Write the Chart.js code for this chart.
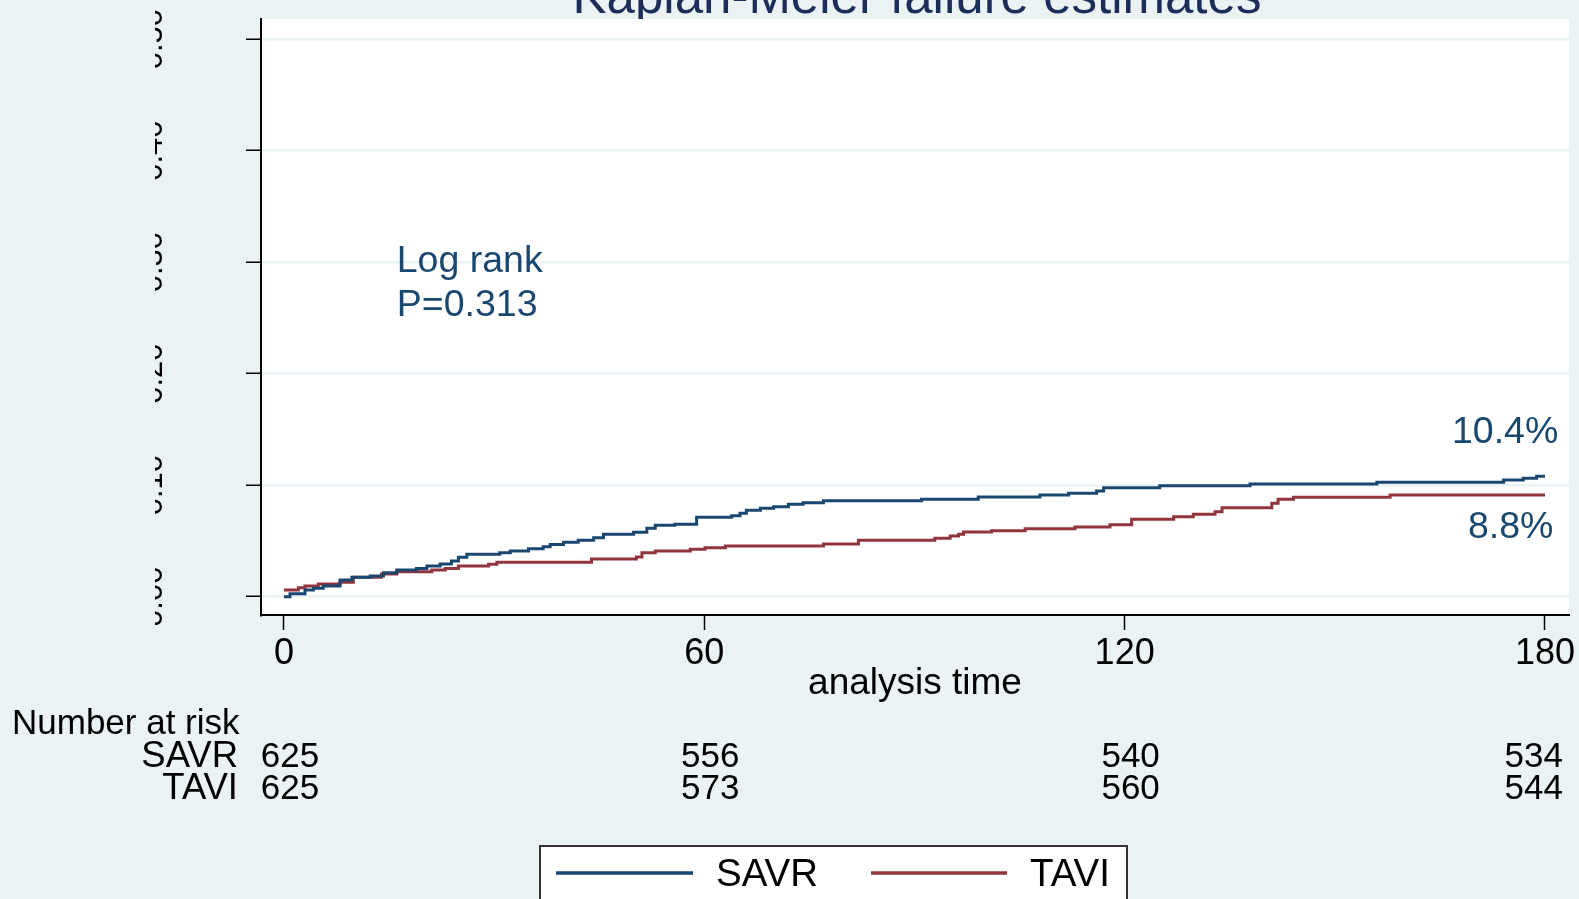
<!DOCTYPE html>
<html>
<head>
<meta charset="utf-8">
<script src="https://cdn.jsdelivr.net/npm/chart.js@4.4.1/dist/chart.umd.min.js"></script>
<style>
  html, body { margin: 0; padding: 0; background: #eaf2f3; }
  #box { width: 1579px; height: 899px; position: relative; }
</style>
</head>
<body>
<div id="box"><canvas id="km"></canvas></div>
<script>
// cumulative failure
const savrTime = [0, 0.86, 3.0, 4.2, 5.6, 8.0, 9.7, 12.3, 14.2, 16.1, 18.9, 20.4, 22.3, 23.9, 24.9, 26.1,
  30.8, 32.3, 34.9, 37.0, 38.0, 39.9, 42.0, 44.2, 45.6, 49.9, 51.8, 53.0, 55.8, 58.9, 63.9, 65.1, 66.0,
  68.0, 69.9, 72.0, 74.1, 77.0, 91.0, 99.1, 107.9, 112.0, 116.0, 117.0, 125.0, 137.9, 156.0, 174.1,
  176.9, 178.8, 180];
const savrFail = [0, 0.0027, 0.006, 0.0075, 0.0096, 0.015, 0.0174, 0.0186, 0.0215, 0.024, 0.0254, 0.0275,
  0.0293, 0.032, 0.0353, 0.038, 0.0395, 0.041, 0.043, 0.0448, 0.0468, 0.0488, 0.0506, 0.0529, 0.056,
  0.0578, 0.0613, 0.064, 0.065, 0.0712, 0.0727, 0.0748, 0.0775, 0.0793, 0.0807, 0.0829, 0.0843, 0.0861,
  0.0874, 0.0894, 0.0912, 0.0927, 0.0948, 0.0978, 0.0996, 0.101, 0.1026, 0.1047, 0.1062, 0.108, 0.108];

const taviTime = [0, 2.05, 3.0, 4.9, 8.0, 9.9, 13.9, 16.1, 21.1, 23.0, 24.9, 29.2, 30.4, 43.9, 50.3, 51.1,
  53.0, 58.0, 60.1, 63.0, 77.0, 82.0, 92.9, 95.1, 96.3, 97.0, 101.0, 105.8, 112.9, 117.9, 121.0, 127.0,
  129.8, 132.9, 133.9, 141.0, 141.9, 144.1, 157.9, 180];
const taviFail = [0.006, 0.0081, 0.0096, 0.0114, 0.0129, 0.0174, 0.0204, 0.0224, 0.024, 0.0254, 0.0275,
  0.029, 0.0308, 0.0338, 0.0357, 0.0395, 0.041, 0.0425, 0.044, 0.0455, 0.0473, 0.0506, 0.0524, 0.0544,
  0.0559, 0.058, 0.0592, 0.061, 0.0625, 0.0646, 0.0694, 0.0717, 0.0739, 0.0762, 0.0798, 0.0838, 0.0874,
  0.0892, 0.0912, 0.0912];

const xTicks = [0, 60, 120, 180];
const yTicks = [0, 0.1, 0.2, 0.3, 0.4, 0.5];
const yTickLabels = ["0.00", "0.10", "0.20", "0.30", "0.40", "0.50"];

const riskTimes = [0, 60, 120, 180];
const riskSAVR = [625, 556, 540, 534];
const riskTAVI = [625, 573, 560, 544];

const FONT = "'Liberation Sans', Arial, sans-serif";
const BG = "#eaf2f3";
const NAVY = "#1a476f";
const MAROON = "#90353b";

const decor = {
  id: "decor",
  beforeDraw(chart) {
    const { ctx, chartArea: a, width, height } = chart;
    ctx.save();
    ctx.fillStyle = BG;
    ctx.fillRect(0, 0, width, height);
    // title sits mostly above the picture, only its lower part shows
    ctx.fillStyle = "#1c2d5a";
    ctx.font = "51px " + FONT;
    ctx.textAlign = "center";
    ctx.textBaseline = "alphabetic";
    ctx.fillText("Kaplan-Meier failure estimates", 917, 13);
    ctx.fillStyle = "#fff";
    ctx.fillRect(a.left, a.top, a.right - a.left, a.bottom - a.top);
    ctx.restore();
  },
  afterDraw(chart) {
    const { ctx } = chart;
    const xs = chart.scales.x, ys = chart.scales.y;
    ctx.save();

    // y labels are rotated and cut off, only a thin strip is left
    ctx.save();
    ctx.beginPath();
    ctx.rect(155, 0, 8, 625);
    ctx.clip();
    ctx.fillStyle = "#000";
    ctx.font = "31px " + FONT;
    ctx.textAlign = "center";
    ctx.textBaseline = "alphabetic";
    yTicks.forEach((v, i) => {
      ctx.save();
      ctx.translate(162, ys.getPixelForValue(v));
      ctx.rotate(-Math.PI / 2);
      ctx.fillText(yTickLabels[i], 0, 0);
      ctx.restore();
    });
    ctx.restore();

    // axis title
    ctx.fillStyle = "#000";
    ctx.font = "37px " + FONT;
    ctx.textAlign = "center";
    ctx.fillText("analysis time", (chart.chartArea.left + chart.chartArea.right) / 2, 694);

    // annotations
    ctx.fillStyle = NAVY;
    ctx.font = "37.5px " + FONT;
    ctx.textAlign = "left";
    ctx.fillText("Log rank", xs.getPixelForValue(16.1), ys.getPixelForValue(0.2914));
    ctx.fillText("P=0.313", xs.getPixelForValue(16.1), ys.getPixelForValue(0.2518));
    ctx.textAlign = "right";
    ctx.fillText("10.4%", xs.getPixelForValue(181.9), ys.getPixelForValue(0.138));
    ctx.fillText("8.8%", xs.getPixelForValue(181.2), ys.getPixelForValue(0.0526));

    // number at risk
    ctx.fillStyle = "#000";
    ctx.font = "35px " + FONT;
    ctx.textAlign = "left";
    ctx.fillText("Number at risk", 12, 734);
    ctx.font = "36.5px " + FONT;
    ctx.textAlign = "right";
    ctx.fillText("SAVR", 238, 767);
    ctx.fillText("TAVI", 238, 799);
    ctx.font = "35px " + FONT;
    ctx.textAlign = "center";
    riskTimes.forEach((t, i) => {
      let cx = xs.getPixelForValue(t) + 6;
      const w1 = ctx.measureText(String(riskSAVR[i])).width;
      if (cx + w1 / 2 > 1563) cx = 1563 - w1 / 2;
      ctx.fillText(String(riskSAVR[i]), cx, 767);
      ctx.fillText(String(riskTAVI[i]), cx, 799);
    });

    // legend box
    ctx.fillStyle = "#fff";
    ctx.fillRect(540, 846, 587, 60);
    ctx.strokeStyle = "#333";
    ctx.lineWidth = 2;
    ctx.strokeRect(540, 846, 587, 60);
    const ds = chart.data.datasets;
    const items = [{ x0: 556, x1: 693, tx: 716 }, { x0: 871, x1: 1007, tx: 1030 }];
    ctx.font = "38.5px " + FONT;
    ctx.textAlign = "left";
    items.forEach((it, i) => {
      ctx.strokeStyle = ds[i].borderColor;
      ctx.lineWidth = 3.5;
      ctx.beginPath();
      ctx.moveTo(it.x0, 873);
      ctx.lineTo(it.x1, 873);
      ctx.stroke();
      ctx.fillStyle = "#000";
      ctx.fillText(ds[i].label, it.tx, 886);
    });

    ctx.restore();
  }
};

new Chart(document.getElementById("km"), {
  type: "line",
  data: {
    datasets: [
      {
        label: "SAVR",
        data: savrTime.map((t, i) => ({ x: t, y: savrFail[i] })),
        borderColor: NAVY,
        borderWidth: 3,
        pointRadius: 0,
        stepped: true,
        fill: false
      },
      {
        label: "TAVI",
        data: taviTime.map((t, i) => ({ x: t, y: taviFail[i] })),
        borderColor: MAROON,
        borderWidth: 3,
        pointRadius: 0,
        stepped: true,
        fill: false
      }
    ]
  },
  options: {
    responsive: true,
    maintainAspectRatio: false,
    animation: false,
    layout: { padding: { top: 19, right: 10, left: 0, bottom: 0 } },
    plugins: {
      legend: { display: false },
      title: { display: false },
      tooltip: { enabled: false }
    },
    scales: {
      x: {
        type: "linear",
        min: -3.28,
        max: 183.43,
        afterBuildTicks: s => { s.ticks = xTicks.map(v => ({ value: v })); },
        afterFit: s => { s.height = 284; },
        grid: { drawOnChartArea: false, tickLength: 15, tickColor: "#000", tickWidth: 1.5 },
        border: { color: "#000", width: 2 },
        ticks: { font: { family: FONT, size: 36 }, color: "#000", padding: 2, maxRotation: 0, autoSkip: false }
      },
      y: {
        type: "linear",
        min: -0.0164,
        max: 0.518,
        afterBuildTicks: s => { s.ticks = yTicks.map(v => ({ value: v })); },
        afterFit: s => { s.width = 261; },
        grid: { color: BG, lineWidth: 2.5, tickLength: 15, tickColor: "#000", tickWidth: 1.5 },
        border: { color: "#000", width: 2 },
        ticks: { display: false }
      }
    }
  },
  plugins: [decor]
});
</script>
</body>
</html>
